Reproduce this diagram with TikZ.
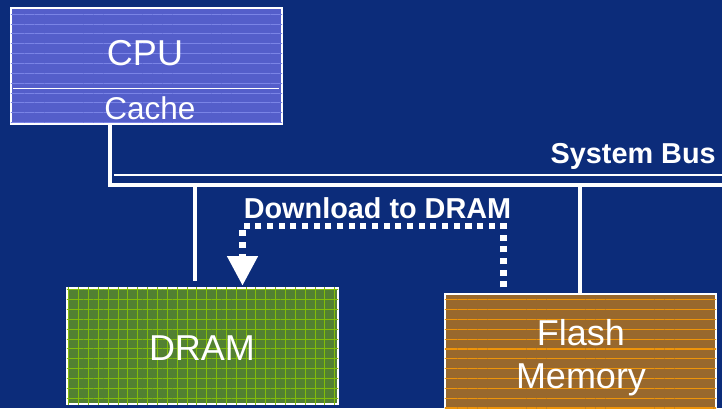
\documentclass[tikz,border=0pt]{standalone}
\usepackage{fontspec}
\setmainfont{Liberation Sans}
\usepackage{tikz}
\usetikzlibrary{arrows.meta, positioning, calc, patterns.meta}
\definecolor{slideBlue}{RGB}{12,44,122}
\definecolor{cpuBlue}{RGB}{84,94,202}
\definecolor{cpuLine}{RGB}{122,132,230}
\definecolor{dramGreen}{RGB}{82,128,50}
\definecolor{dramLine}{RGB}{130,188,10}
\definecolor{flashBrown}{RGB}{152,104,45}
\definecolor{flashLine}{RGB}{238,148,10}

\begin{document}
\begin{tikzpicture}[x=0.025cm, y=-0.025cm,
    mbox/.style={rectangle, draw=white, line width=1.4pt, minimum width=6.775cm, minimum height=2.9cm, inner sep=0pt},
    btxt/.style={text=white, inner sep=0pt, anchor=base, font=\fontsize{25.6}{31}\selectfont},
    ltxt/.style={text=white, inner sep=0pt, anchor=base, font=\fontsize{20.5}{24}\selectfont\bfseries},
    bus/.style={draw=white, line width=3.2pt},
    dl/.style={draw=white, line width=4.3pt, dash pattern=on 4.3pt off 4pt, -{Triangle[length=21pt, width=21pt]}}
  ]
  \fill[slideBlue] (0,0) rectangle (722,408);
  \useasboundingbox (0,0) rectangle (722,408);

  % memory boxes
  \node[mbox, fill=cpuBlue, postaction={pattern={Lines[distance=7pt, line width=0.7pt]}, pattern color=cpuLine}] (cpu) at (146.5,66) {};
  \node[mbox, fill=dramGreen, postaction={pattern={Lines[distance=7pt, line width=0.7pt]}, pattern color=dramLine},
    postaction={pattern={Lines[angle=90, distance=7pt, line width=0.7pt]}, pattern color=dramLine}] (dram) at (202.5,346) {};
  \node[mbox, fill=flashBrown, postaction={pattern={Lines[distance=7pt, line width=0.8pt]}, pattern color=flashLine}] (flash) at (580.5,352) {};
  \draw[white, line width=1.4pt] (13,88.5) -- (279,88.5);

  \node[btxt] (cputxt) at (145,65) {CPU};
  \node[btxt, font=\fontsize{22.4}{27}\selectfont] (cachetxt) at (150,119) {Cache};
  \node[btxt] (dramtxt) at (202,360) {DRAM};
  \node[btxt] (flashtxt) at (581,345) {Flash};
  \node[btxt] (memtxt) at (581,388) {Memory};

  % system bus
  \coordinate (busL) at (110,185);
  \coordinate (busR) at (722,185);
  \coordinate (busT) at (114,175);
  \coordinate (busTR) at (722,175);
  \draw[bus] (busL |- cpu.south) -- (busL) -- (busR);
  \draw[white, line width=1.6pt] (busT) -- (busTR);
  \node[ltxt, anchor=base east] (bustxt) at (716,163) {System Bus};

  \coordinate (dramtap) at (195,185);
  \coordinate (flashtap) at (580,185);
  \draw[white, line width=2.8pt] (dramtap) -- ([yshift=4.5pt]dramtap |- dram.north);
  \draw[white, line width=2.8pt] (flashtap) -- (flashtap |- flash.north);

  % download path
  \coordinate (dlA) at (503.5,226);
  \coordinate (dlB) at (242.5,226);
  \draw[dl] ([yshift=4pt]dlA |- flash.north) -- (dlA) -- (dlB) -- ([yshift=1pt]dlB |- dram.north);
  \node[ltxt] (dltxt) at (377.5,218) {Download to DRAM};
\end{tikzpicture}
\end{document}
